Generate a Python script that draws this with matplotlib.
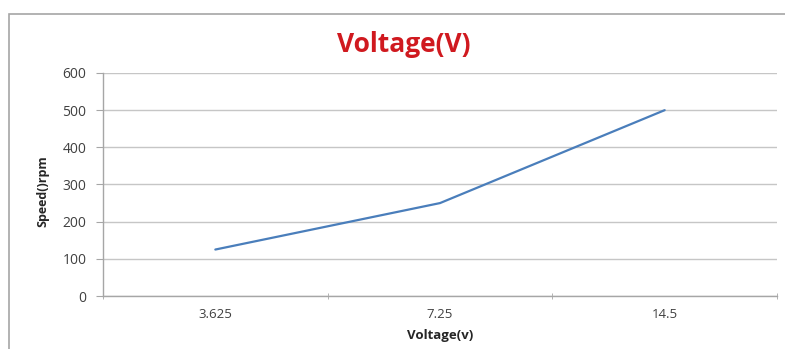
import matplotlib
matplotlib.use("Agg")
import matplotlib.pyplot as plt
from matplotlib.patches import Rectangle

# Data
categories = ["3.625", "7.25", "14.5"]
speed_rpm = [125, 250, 500]
y_ticks = [0, 100, 200, 300, 400, 500, 600]

plt.rcParams['font.family'] = ['Open Sans', 'DejaVu Sans']

W, H = 785, 349
fig = plt.figure(figsize=(W / 100, H / 100), dpi=100)

# Chart frame
fig.patches.append(Rectangle((9 / W, -0.1), 1.2, 1 - 14 / H + 0.1,
                             transform=fig.transFigure, fill=False,
                             edgecolor="#A6A6A6", linewidth=1.2))

ax = fig.add_axes([103 / W, 1 - 296 / H, (777 - 103) / W, (296 - 73) / H])

x = list(range(len(categories)))
ax.plot(x, speed_rpm, color="#4A7EBB", linewidth=1.6, solid_capstyle="round")

ax.set_xlim(-0.5, len(categories) - 0.5)
ax.set_ylim(0, 600)
ax.set_yticks(y_ticks)
ax.set_yticklabels([str(v) for v in y_ticks])
ax.yaxis.grid(True, color="#C6C6C6", linewidth=1.0)
ax.set_axisbelow(True)

ax.set_xticks(x)
ax.set_xticklabels(categories)
ax.set_xticks([i + 0.5 for i in range(-1, len(categories))], minor=True)
ax.tick_params(axis="x", which="major", length=0, pad=9, labelsize=9.5, labelcolor="#404040")
ax.tick_params(axis="x", which="minor", length=4, color="#A6A6A6", direction="inout")
ax.tick_params(axis="y", length=5, color="#A6A6A6", labelsize=10, labelcolor="#404040", pad=7)

for s in ["top", "right"]:
    ax.spines[s].set_visible(False)
for s in ["left", "bottom"]:
    ax.spines[s].set_color("#A6A6A6")
    ax.spines[s].set_linewidth(1.0)

ax.set_xlabel("Voltage(v)", fontsize=9.5, fontweight="bold", color="#262626")
ax.xaxis.set_label_coords(0.5, (296 - 329) / 223)
ax.set_ylabel("Speed()rpm", fontsize=9, fontweight="bold", color="#262626")
ax.yaxis.label.set_va("center")
ax.yaxis.set_label_coords((43 - 103) / 674, 0.47)

fig.text(404 / W, 1 - 44 / H, "Voltage(V)", ha="center", va="center",
         fontsize=19, fontweight="bold", color="#D0191F")

fig.savefig("out.png", dpi=100)
